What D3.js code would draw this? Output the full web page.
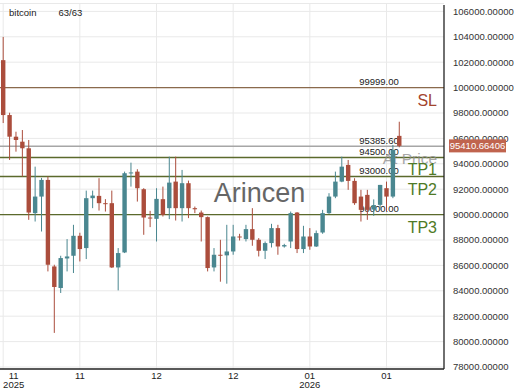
<!DOCTYPE html>
<html>
<head>
<meta charset="utf-8">
<script src="https://cdn.jsdelivr.net/npm/d3@7"></script>
<style>
  body { margin: 0; background: #fff; }
  svg { font-family: "Liberation Sans", Arial, sans-serif; }
</style>
</head>
<body>
<svg id="chart" width="520" height="390"></svg>
<script>
// candles
var opens  = [102161, 97839, 96134, 95741, 95222, 90115, 91419, 92731, 85918, 84221,
              86547, 86759, 88331, 87364, 91293, 91474, 90900, 90900, 85840, 87019,
              93258, 93384, 92000, 89769, 89666, 91215, 90507, 92598, 90507, 92472,
              90507, 90162, 89800, 85840, 86838, 86790, 87097, 88276, 88072, 88857,
              88017, 87152, 87757, 88936, 87490, 87883, 90162, 87286, 88276, 87490,
              88590, 90115, 91419, 92598, 93910, 92653, 91419, 91553, 90400, 90767,
              92079, 91419, 96200];
var highs  = [103992, 98020, 96527, 96660, 95875, 93776, 92889, 92991, 86052, 86759,
              88072, 89195, 88570, 91890, 91890, 92865, 91215, 91890, 87364, 93384,
              94091, 93572, 92079, 90295, 92079, 92205, 94562, 94562, 93517, 92676,
              90633, 90319, 89848, 87364, 88017, 89195, 89195, 88488, 89195, 90507,
              88150, 87883, 89274, 89195, 87700, 90240, 90200, 89117, 88936, 88747,
              90374, 91686, 93384, 94562, 94303, 92865, 91950, 91950, 91200, 92338,
              92598, 95482, 97313];
var lows   = [97210, 94303, 94955, 92991, 89588, 89455, 88669, 85526, 80685, 83828,
              85526, 85400, 86312, 86500, 90507, 90319, 90240, 85792, 84033, 86971,
              92205, 91026, 88409, 89015, 87883, 89848, 89643, 89533, 89455, 89722,
              90115, 87883, 85526, 85526, 84716, 84559, 86838, 87961, 87883, 87545,
              86704, 86500, 87411, 86838, 87400, 87364, 86971, 86971, 87231, 87450,
              88488, 90050, 91293, 92550, 91950, 90767, 89455, 89588, 89900, 90374,
              90240, 91293, 95300];
var closes = [97839, 96134, 95875, 95222, 90162, 91419, 92731, 86052, 84300, 86578,
              86704, 88331, 87286, 91293, 91498, 90900, 90830, 85840, 86971, 93258,
              93320, 92079, 89769, 89720, 91238, 89981, 92519, 90507, 92472, 90507,
              90420, 89800, 85792, 86838, 86790, 87097, 88276, 88230, 88857, 88017,
              87152, 87757, 88936, 87490, 87600, 90115, 87286, 88276, 87490, 88543,
              90115, 91419, 92598, 93776, 92653, 90900, 90374, 90374, 90750, 92338,
              91419, 95089, 95410.66406];

var yTicks = d3.range(78000, 106001, 2000);
var xTickIdx = [0, 12, 24, 36, 48, 60];
var xTickLabels = ["11", "11", "12", "12", "01", "01"];
var xTickYears = ["2025", "", "", "", "2026", ""];

var levelValues = [99999, 95385.6, 94500, 93000, 90000];
var levelNames = ["SL", "At Price", "TP1", "TP2", "TP3"];
var levelColors = ["#8a6a4c", "#a6a6a6", "#5b6a2c", "#5b6a2c", "#5b6a2c"];
var levelNameColors = ["#a3452e", "#8c8c8c", "#4f7a26", "#4f7a26", "#4f7a26"];

var lastPrice = closes[closes.length - 1];

var svg = d3.select("#chart");
var plotRight = 444, plotBottom = 369;

var x = d3.scaleLinear().domain([-0.5, 69]).range([0, plotRight]);
var y = d3.scaleLinear().domain([78000, 106000]).range([367, 11.4]);

// grid
var grid = svg.append("g");
grid.selectAll("line.h")
  .data(yTicks)
  .enter()
  .append("line")
  .attr("x1", 0).attr("x2", plotRight)
  .attr("y1", function (d) { return y(d); })
  .attr("y2", function (d) { return y(d); })
  .style("stroke", "#e9e9e9");
grid.append("line")
  .attr("x1", 0).attr("x2", plotRight).attr("y1", 3.5).attr("y2", 3.5)
  .style("stroke", "#e9e9e9");
grid.selectAll("line.v")
  .data(xTickIdx)
  .enter()
  .append("line")
  .attr("x1", function (d) { return x(d); })
  .attr("x2", function (d) { return x(d); })
  .attr("y1", 3).attr("y2", plotBottom)
  .style("stroke", "#e9e9e9");

// watermark
svg.append("text")
  .attr("x", 259.5).attr("y", 202)
  .attr("text-anchor", "middle")
  .attr("font-size", "27px")
  .style("fill", "#666")
  .text("Arincen");

// levels
var levels = svg.append("g");
levels.selectAll("line")
  .data(levelValues)
  .enter()
  .append("line")
  .attr("x1", 0).attr("x2", plotRight)
  .attr("y1", function (d) { return y(d); })
  .attr("y2", function (d) { return y(d); })
  .style("stroke", function (d, i) { return levelColors[i]; })
  .style("stroke-width", 1.4);

levels.selectAll("text.val")
  .data(levelValues)
  .enter()
  .append("text")
  .attr("class", "val")
  .attr("x", x(62) - 0.5)
  .attr("y", function (d) { return y(d) - 2.5; })
  .attr("text-anchor", "end")
  .attr("font-size", "9.5px")
  .style("fill", "#222")
  .text(function (d) { return d3.format(".2f")(d); });

levels.selectAll("text.name")
  .data(levelValues)
  .enter()
  .append("text")
  .attr("class", "name")
  .attr("x", 437)
  .attr("y", function (d) { return y(d) + 18; })
  .attr("text-anchor", "end")
  .attr("font-size", function (d, i) { return i === 1 ? "15.5px" : "16px"; })
  .style("fill", function (d, i) { return levelNameColors[i]; })
  .style("opacity", function (d, i) { return i === 1 ? 0.75 : 1; })
  .text(function (d, i) { return levelNames[i]; });

// candles
var candles = svg.append("g")
  .selectAll("g")
  .data(opens)
  .enter()
  .append("g");

function candleColor(i) {
  return closes[i] >= opens[i] ? "#4a8790" : "#ab4d3c";
}

candles.append("line")
  .attr("x1", function (d, i) { return x(i); })
  .attr("x2", function (d, i) { return x(i); })
  .attr("y1", function (d, i) { return y(highs[i]); })
  .attr("y2", function (d, i) { return y(lows[i]); })
  .style("stroke", function (d, i) { return candleColor(i); })
  .style("stroke-width", 1);

candles.append("rect")
  .attr("x", function (d, i) { return x(i) - 2.2; })
  .attr("width", 4.4)
  .attr("y", function (d, i) { return y(Math.max(opens[i], closes[i])); })
  .attr("height", function (d, i) {
    return Math.max(1, Math.abs(y(opens[i]) - y(closes[i])));
  })
  .style("fill", function (d, i) { return candleColor(i); });

// axes
svg.append("line")
  .attr("x1", plotRight).attr("x2", plotRight).attr("y1", 5).attr("y2", plotBottom)
  .style("stroke", "#222").style("stroke-width", 1.3);
svg.append("line")
  .attr("x1", 0).attr("x2", plotRight).attr("y1", plotBottom).attr("y2", plotBottom)
  .style("stroke", "#222").style("stroke-width", 1.3);

svg.append("g")
  .selectAll("text")
  .data(yTicks)
  .enter()
  .append("text")
  .attr("x", 453)
  .attr("y", function (d) { return y(d); })
  .attr("dy", "0.35em")
  .attr("font-size", "9.5px")
  .style("fill", "#333")
  .text(function (d) { return d3.format(".5f")(d); });

// last price tag
var tag = svg.append("g")
  .attr("transform", "translate(0," + y(lastPrice) + ")");
tag.append("rect")
  .attr("x", 449).attr("y", -6.5).attr("width", 57).attr("height", 13)
  .style("fill", "#c0644e");
tag.append("text")
  .attr("x", 477.5).attr("dy", "0.35em")
  .attr("text-anchor", "middle")
  .attr("font-size", "9.5px")
  .style("fill", "#fff")
  .text(d3.format(".5f")(lastPrice));

var xAxis = svg.append("g");
xAxis.selectAll("text.m")
  .data(xTickIdx)
  .enter()
  .append("text")
  .attr("x", function (d, i) { return i === 0 ? x(d) + 10.5 : x(d); })
  .attr("y", 378.5)
  .attr("text-anchor", "middle")
  .attr("font-size", "9.5px")
  .style("fill", "#222")
  .text(function (d, i) { return xTickLabels[i]; });
xAxis.selectAll("text.yr")
  .data(xTickIdx)
  .enter()
  .append("text")
  .attr("x", function (d, i) { return i === 0 ? x(d) + 10.5 : x(d); })
  .attr("y", 387.5)
  .attr("text-anchor", "middle")
  .attr("font-size", "9.5px")
  .style("fill", "#222")
  .text(function (d, i) { return xTickYears[i]; });

// header
svg.append("text").attr("x", 9).attr("y", 16)
  .attr("font-size", "9.5px").style("fill", "#222").text("bitcoin");
svg.append("text").attr("x", 58.5).attr("y", 16)
  .attr("font-size", "9.5px").style("fill", "#222").text("63/63");
</script>
</body>
</html>
